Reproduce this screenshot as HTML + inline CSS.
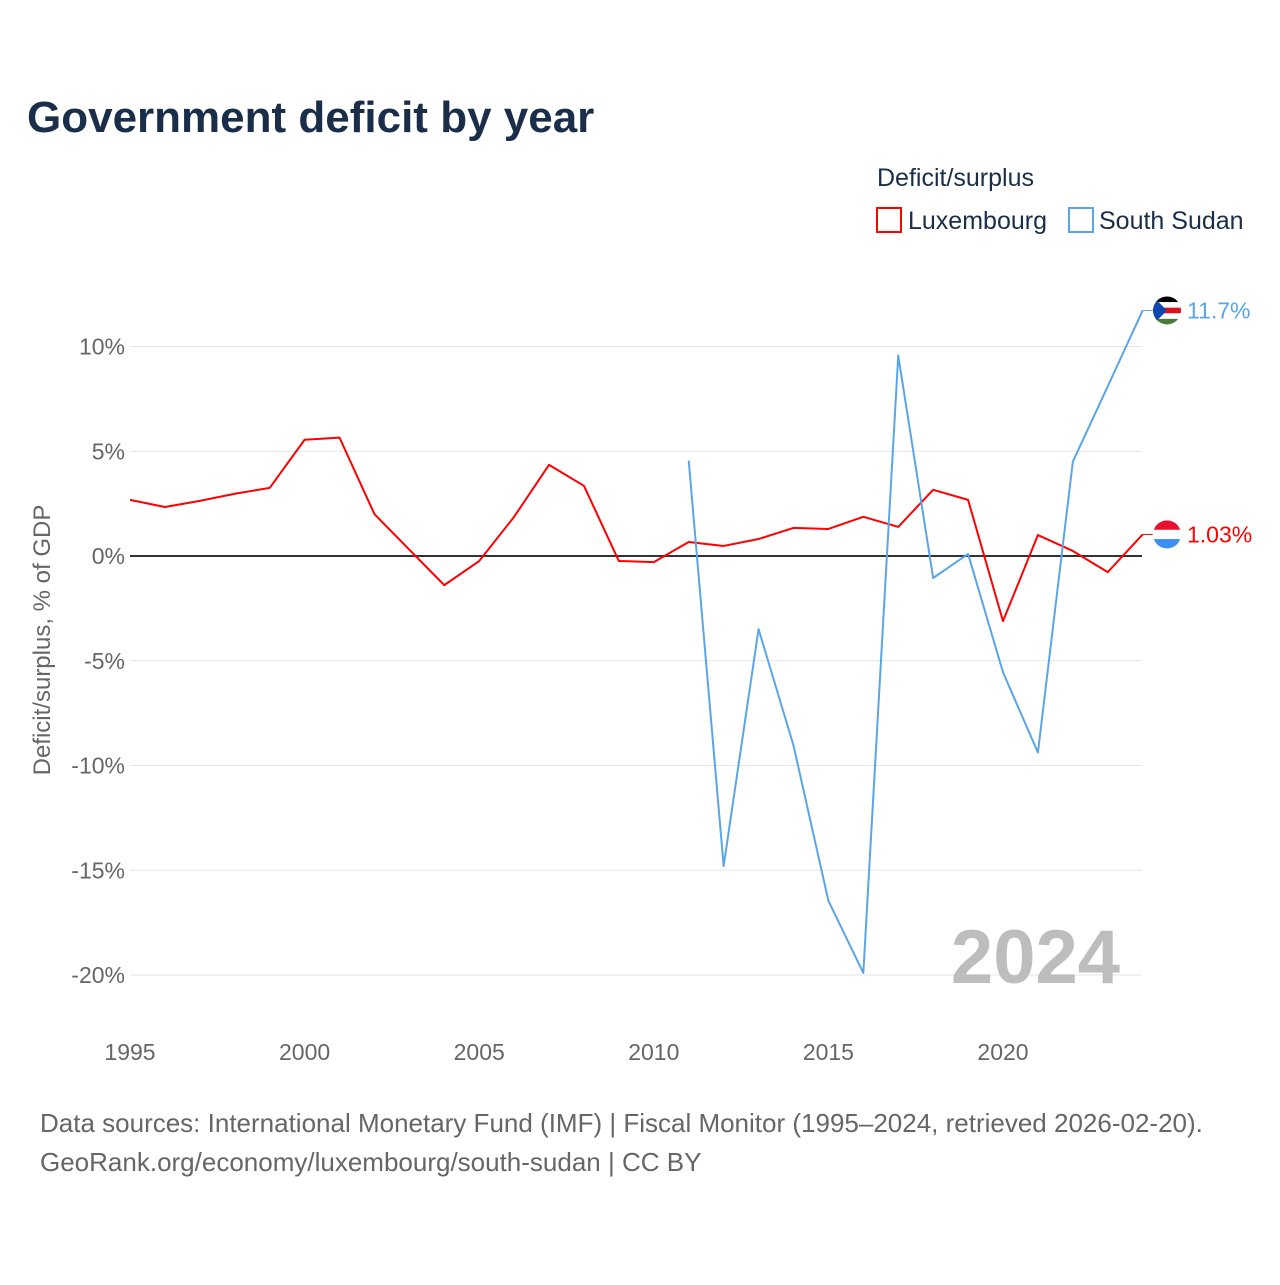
<!DOCTYPE html>
<html><head><meta charset="utf-8"><style>
body{margin:0;background:#fff;width:1280px;height:1280px;overflow:hidden;font-family:"Liberation Sans",sans-serif}
</style></head><body>
<svg width="1280" height="1280" style="font-family:'Liberation Sans',sans-serif">
<text x="27" y="132" font-size="44" font-weight="bold" fill="#1a2e4a">Government deficit by year</text>
<text x="877" y="186" font-size="25" fill="#1a2e4a">Deficit/surplus</text>
<g><rect x="877" y="208" width="24" height="24" fill="none" stroke="#ff0000" stroke-width="2"/><text x="908" y="229" font-size="25" fill="#1a2e4a">Luxembourg</text></g>
<g><rect x="1069" y="208" width="24" height="24" fill="none" stroke="#5aa5e8" stroke-width="2"/><text x="1099" y="229" font-size="25" fill="#1a2e4a">South Sudan</text></g>
<g id="grid"></g>
<g id="yt"></g>
<g id="xt"></g>
<text transform="translate(50,640) rotate(-90)" text-anchor="middle" font-size="24" fill="#666">Deficit/surplus, % of GDP</text>
<text x="1120" y="983" text-anchor="end" font-size="76" font-weight="bold" fill="#bdbdbd">2024</text>
<g id="series"></g>
<text x="40" y="1132" font-size="26" fill="#666">Data sources: International Monetary Fund (IMF) | Fiscal Monitor (1995–2024, retrieved 2026-02-20).</text>
<text x="40" y="1171" font-size="26" fill="#666">GeoRank.org/economy/luxembourg/south-sudan | CC BY</text>
</svg>
<script>
const luxYears=[1995,1996,1997,1998,1999,2000,2001,2002,2003,2004,2005,2006,2007,2008,2009,2010,2011,2012,2013,2014,2015,2016,2017,2018,2019,2020,2021,2022,2023,2024];
const luxValues=[2.68,2.34,2.63,2.97,3.25,5.55,5.65,2.0,0.3,-1.39,-0.24,1.87,4.35,3.35,-0.24,-0.29,0.67,0.48,0.81,1.34,1.29,1.87,1.39,3.16,2.68,-3.11,1.0,0.24,-0.77,1.03];
const ssYears=[2011,2012,2013,2014,2015,2016,2017,2018,2019,2020,2021,2022,2023,2024];
const ssValues=[4.55,-14.8,-3.49,-9.04,-16.46,-19.9,9.57,-1.05,0.1,-5.55,-9.38,4.5,8.1,11.72];
const yTicks=[10,5,0,-5,-10,-15,-20];
const yTickLabels=["10%","5%","0%","-5%","-10%","-15%","-20%"];
const xTicks=[1995,2000,2005,2010,2015,2020];
const NS="http://www.w3.org/2000/svg";
const X=y=>130+(y-1995)*(1003-130)/25;
const Y=v=>556-v*20.95;
function mk(t,a,p){const e=document.createElementNS(NS,t);for(const k in a)e.setAttribute(k,a[k]);p.appendChild(e);return e;}
const grid=document.getElementById('grid'),yt=document.getElementById('yt'),xt=document.getElementById('xt'),ser=document.getElementById('series');
yTicks.forEach((v,i)=>{
 const l=mk('line',{x1:130,x2:1142,y1:Y(v),y2:Y(v),stroke:v===0?'#333':'#e6e6e6','stroke-width':v===0?2:1},grid);
 
 
 const t=mk('text',{x:125,y:Y(v)+8,'text-anchor':'end','font-size':23,fill:'#666'},yt);
 t.textContent=yTickLabels[i];
 
 
});
xTicks.forEach(y=>{
 const t=mk('text',{x:X(y),y:1060,'text-anchor':'middle','font-size':23,fill:'#666'},xt);
 t.textContent=y;
 
 
});
function line(ys,vs,c,name){
 const p=mk('polyline',{points:ys.map((y,i)=>X(y)+','+Y(vs[i])).join(' '),fill:'none',stroke:c,'stroke-width':2,'stroke-linejoin':'round'},ser);
 
 
 const lv=vs[vs.length-1],lx=X(ys[ys.length-1]);
 mk('line',{x1:lx,x2:lx+10,y1:Y(lv),y2:Y(lv),stroke:c,'stroke-width':1},ser);
 return [lx,lv];
}
const [lx1,lv1]=line(luxYears,luxValues,'#ff0000','luxembourg-line');
const [lx2,lv2]=line(ssYears,ssValues,'#5aa5e8','south-sudan-line');
function flag(cy,colors,name,id){
 const g=mk('g',{},ser);
 
 
 const cp=mk('clipPath',{id:id},g);mk('circle',{cx:1167,cy:cy,r:14},cp);
 const h=28/colors.length;
 colors.forEach((c,i)=>mk('rect',{x:1153,y:cy-14+i*h,width:28,height:h+0.5,fill:c,'clip-path':'url(#'+id+')'},g));
 return g;
}
flag(Y(lv1),['#e8112d','#ffffff','#3c8ef0'],'luxembourg-flag','c1');
const g2=flag(Y(lv2),['#000000','#ffffff','#da121a','#ffffff','#4a7a3a'],'south-sudan-flag','c2');
mk('polygon',{points:`1153,${Y(lv2)-14} 1167,${Y(lv2)} 1153,${Y(lv2)+14}`,fill:'#0f47af','clip-path':'url(#c2)'},g2);
const t1=mk('text',{x:1187,y:Y(lv1)+8,'font-size':23,fill:'#ff0000'},ser);t1.textContent=lv1.toFixed(2)+'%';


const t2=mk('text',{x:1187,y:Y(lv2)+8,'font-size':23,fill:'#5aa5e8'},ser);t2.textContent=lv2.toFixed(1)+'%';


</script>
</body></html>
